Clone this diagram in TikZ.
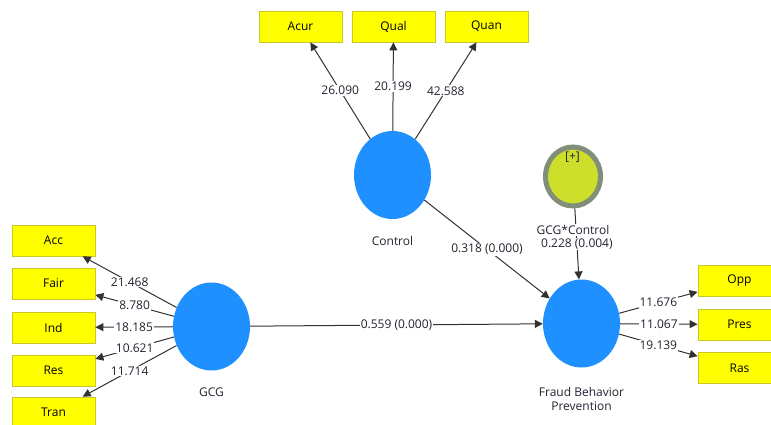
\documentclass[tikz,border=0pt]{standalone}
\usepackage{fontspec}
\setmainfont{Open Sans}
\usetikzlibrary{arrows.meta,shapes.geometric}
\definecolor{lv_blue}{RGB}{30,144,255}
\definecolor{ind_yellow}{RGB}{255,255,0}
\definecolor{ind_border}{RGB}{200,200,40}
\definecolor{mod_green}{RGB}{205,223,42}
\definecolor{mod_ring}{RGB}{128,142,122}
\definecolor{path_grey}{RGB}{50,50,50}
\definecolor{txt_grey}{RGB}{35,35,50}
\tikzstyle{lv}=[ellipse,fill=lv_blue,draw=none,inner sep=0pt,
  minimum width=77pt,minimum height=88pt]
\tikzstyle{mod}=[ellipse,fill=mod_green,draw=mod_ring,line width=5pt,
  inner sep=0pt,minimum width=55pt,minimum height=59pt]
\tikzstyle{ind}=[rectangle,fill=ind_yellow,draw=ind_border,
  line width=0.8pt,inner sep=0pt,minimum width=83pt,minimum height=31pt]
\tikzstyle{val}=[fill=white,inner sep=1pt,text=txt_grey]
\tikzstyle{lnk}=[draw=path_grey,line width=1pt,-{Triangle[length=8pt,width=8pt]}]
\tikzstyle{none}=[text=txt_grey]

\begin{document}
\begin{tikzpicture}[x=1pt,y=-1pt,font=\fontsize{12}{14}\selectfont]
        \useasboundingbox (0,0) rectangle (771,425);
        \clip (0,0) rectangle (771,425);
        \node [style=ind] (0) at (300.5, 26.5) {Acur};
		\node [style=ind] (1) at (393.5, 26.5) {Qual};
		\node [style=ind] (2) at (486.5, 26.5) {Quan};
		\node [style=lv] (3) at (392.5, 175) {};
		\node [style=none] (4) at (392.5, 241) {Control};
		\node [style=ind] (5) at (53.5, 240.5) {Acc};
		\node [style=ind] (6) at (53.5, 283.5) {Fair};
		\node [style=ind] (7) at (53.5, 327.5) {Ind};
		\node [style=ind] (8) at (53.5, 370.5) {Res};
		\node [style=ind] (9) at (53.5, 412.5) {Tran};
		\node [style=lv] (10) at (211.5, 326.5) {};
		\node [style=none] (11) at (211.5, 392) {GCG};
		\node [style=lv] (12) at (581.5, 323.5) {};
		\node [style=none,align=center] (13) at (581.5, 398.5) {Fraud Behavior\\Prevention};
		\node [style=mod] (14) at (573, 176.5) {};
		\node [style=none] (15) at (572.5, 157) {[+]};
		\node [style=ind] (17) at (739.5, 280.5) {Opp};
		\node [style=ind] (18) at (739.5, 324.5) {Pres};
		\node [style=ind] (19) at (739.5, 368) {Ras};
		\draw [style=lnk] (3) to node [style=val] {26.090} (0);
		\draw [style=lnk] (3) to node [style=val] {20.199} (1);
		\draw [style=lnk] (3) to node [style=val] {42.588} (2);
		\draw [style=lnk] (10) to node [style=val] {21.468} (5);
		\draw [style=lnk] (10) to node [style=val] {8.780} (6);
		\draw [style=lnk] (10) to node [style=val] {18.185} (7);
		\draw [style=lnk] (10) to node [style=val] {10.621} (8);
		\draw [style=lnk] (10) to node [style=val] {11.714} (9);
		\draw [style=lnk] (12) to node [style=val] {11.676} (17);
		\draw [style=lnk] (12) to node [style=val] {11.067} (18);
		\draw [style=lnk] (12) to node [style=val] {19.139} (19);
		\draw [style=lnk] (10) to node [style=val] {0.559 (0.000)} (12);
		\draw [style=lnk] (3) to node [style=val] {0.318 (0.000)} (12);
		\draw [style=lnk] (14) to node [style=val] {0.228 (0.004)} (12);
		\node [style=none,fill=white,inner sep=1pt] (16) at (573, 230) {GCG*Control};
    \end{tikzpicture}
\end{document}
